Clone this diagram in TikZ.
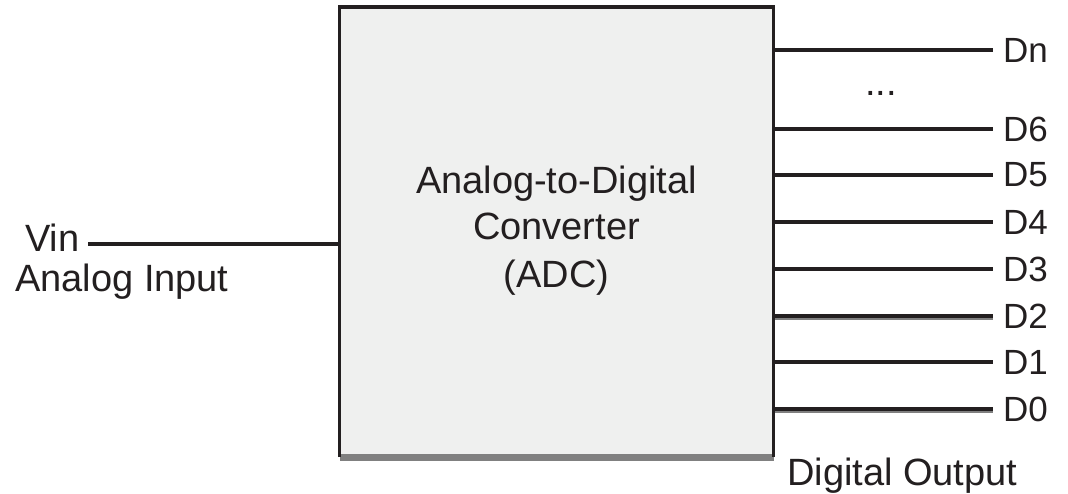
\documentclass[tikz,border=0pt]{standalone}
\usepackage{fontspec}
\setmainfont{Liberation Sans}
\definecolor{boxfill}{HTML}{EFF0EF}
\definecolor{shade}{HTML}{808080}
\definecolor{ink}{HTML}{231F20}
\begin{document}
\begin{tikzpicture}[x=1pt,y=-1pt,
  txt/.style={inner sep=0pt,font=\fontsize{38}{47}\selectfont,text=ink},
  dlab/.style={inner sep=0pt,font=\fontsize{35}{40}\selectfont,text=ink},
  wire/.style={draw=ink,line width=3.2pt},
  shadow/.style={draw=shade,line width=3pt}]
\useasboundingbox[fill=white] (0,0) rectangle (1068,494);
% box
\node[draw=none,fill=boxfill,minimum width=434pt,minimum height=450pt,inner sep=0pt] (adc) at (556.5,232) {};
\draw[draw=shade,line width=7pt] (339.5,457.5) -- (773.5,457.5);
\draw[draw=ink,line width=3.5pt] (339.5,457) -- (339.5,7) -- (773.5,7) -- (773.5,457);
% box text
\node[txt,anchor=base] (t1) at (556.5,194) {Analog-to-Digital};
\node[txt,anchor=base] (t2) at (556.5,240) {Converter};
\node[txt,anchor=base] (t3) at (556.5,288) {(ADC)};
% input
\node[txt,anchor=base west] (vin) at (25,252) {Vin};
\node[txt,anchor=base west] (ain) at (15,292) {Analog Input};
\coordinate (vinL) at (88,244);
\draw[wire] (vinL) -- (vinL -| 338,0);
% outputs
\foreach \n/\lab/\yy in {dn/Dn/50, d6/D6/129, d5/D5/175, d4/D4/222, d3/D3/269, d2/D2/316, d1/D1/362, d0/D0/409}{
  \node[dlab,anchor=west] (\n) at (1003,\yy) {\lab};
}
\foreach \n in {d2,d0}{
  \draw[shadow,shorten >=10pt] ([yshift=-2.5pt]\n.west -| 775,0) -- ([yshift=-2.5pt]\n.west);
}
\foreach \n in {dn,d6,d5,d4,d3,d2,d1,d0}{
  \draw[wire,shorten >=10pt] (\n.west -| 775,0) -- (\n.west);
}
\node[txt,anchor=base] (dots) at (881,96) {...};
\node[txt,anchor=base west] (dout) at (787,485) {Digital Output};
\end{tikzpicture}
\end{document}
